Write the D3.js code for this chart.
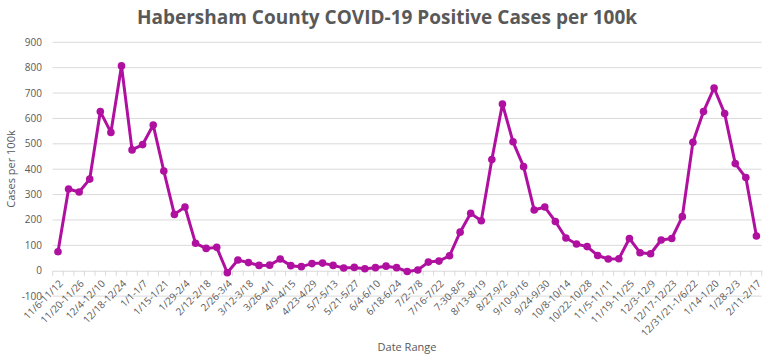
<!DOCTYPE html>
<html>
<head>
<meta charset="utf-8">
<script src="https://cdn.jsdelivr.net/npm/d3@7"></script>
<style>
  html, body { margin: 0; padding: 0; background: #fff; }
  svg { display: block; }
  text { font-family: "Open Sans", "Noto Sans", sans-serif; }
</style>
</head>
<body>
<svg id="chart" width="770" height="357"></svg>
<script>
const categories = [
  "11/6-11/12","11/13-11/19","11/20-11/26","11/27-12/3","12/4-12/10","12/11-12/17",
  "12/18-12/24","12/25-12/31","1/1-1/7","1/8-1/14","1/15-1/21","1/22-1/28",
  "1/29-2/4","2/5-2/11","2/12-2/18","2/19-2/25","2/26-3/4","3/5-3/11",
  "3/12-3/18","3/19-3/25","3/26-4/1","4/2-4/8","4/9-4/15","4/16-4/22",
  "4/23-4/29","4/30-5/6","5/7-5/13","5/14-5/20","5/21-5/27","5/28-6/3",
  "6/4-6/10","6/11-6/17","6/18-6/24","6/25-7/1","7/2-7/8","7/9-7/15",
  "7/16-7/22","7/23-7/29","7-30-8/5","8/6-8/12","8/13-8/19","8/20-8/26",
  "8/27-9/2","9/3-9/9","9/10-9/16","9/17-9/23","9/24-9/30","10/1-10/7",
  "10/8-10/14","10/15-10/21","10/22-10/28","10/29-11/4","11/5-11/11","11/12-11/18",
  "11/19-11/25","11/26-12/2","12/3-12/9","12/10-12/16","12/17-12/23","12/24-12/30",
  "12/31/21-1/6/22","1/7-1/13","1/14-1/20","1/21-1/27","1/28-2/3","2/4-2/10",
  "2/11-2/17"
];
const casesPer100k = [
  75, 322, 310, 361, 627, 545, 807, 476, 497, 574, 393, 222,
  251, 108, 88, 92, -8, 42, 32, 21, 22, 46, 20, 16,
  28, 30, 21, 11, 13, 8, 12, 18, 12, -3, 3, 34,
  38, 59, 152, 226, 197, 438, 657, 508, 410, 239, 251, 194,
  129, 105, 95, 60, 46, 47, 127, 71, 67, 121, 127, 213,
  506, 627, 720, 619, 422, 367, 137
];
const yTicks = [-100, 0, 100, 200, 300, 400, 500, 600, 700, 800, 900];
const title = "Habersham County COVID-19 Positive Cases per 100k";
const yTitle = "Cases per 100k";
const xTitle = "Date Range";

const svg = d3.select("#chart");
const plotLeft = 52.7, plotRight = 761.7, plotTop = 42.3, plotBottom = 296.1;
const textColor = "#595959";
const lineColor = "#b0109f";

const x = d3.scaleBand().domain(categories).range([plotLeft, plotRight]).padding(0);
const y = d3.scaleLinear().domain([-100, 900]).range([plotBottom, plotTop]);

// gridlines
svg.append("g").selectAll("line").data(yTicks.filter(d => d !== 0)).join("line")
  .attr("x1", plotLeft).attr("x2", plotRight)
  .attr("y1", d => y(d)).attr("y2", d => y(d))
  .attr("stroke", "#d9d9d9").attr("stroke-width", 1);

// y tick labels
svg.append("g").selectAll("text").data(yTicks).join("text")
  .attr("x", 42).attr("y", d => y(d)).attr("dy", "0.35em")
  .attr("text-anchor", "end").attr("font-size", 10).attr("fill", textColor)
  .text(d => d);

// x axis at zero
const xAxis = d3.axisBottom(x).tickSize(0).tickFormat("");
const gx = svg.append("g").attr("transform", `translate(0,${y(0)})`).call(xAxis);
gx.select(".domain").attr("stroke", "#d9d9d9");
const bounds = categories.map(c => x(c)).concat([plotRight]);
gx.append("g").selectAll("line").data(bounds).join("line")
  .attr("x1", d => d).attr("x2", d => d).attr("y1", 0).attr("y2", 5)
  .attr("stroke", "#d9d9d9");

// x labels (every other)
svg.append("g").selectAll("text")
  .data(categories.filter((c, i) => i % 2 === 0)).join("text")
  .attr("transform", c => `translate(${x(c) + x.bandwidth() / 2 + 3},${y(0) + 11}) rotate(-45)`)
  .attr("text-anchor", "end").attr("dy", "0.35em")
  .attr("font-size", 10).attr("fill", textColor)
  .text(c => c);

// line
const line = d3.line()
  .x((d, i) => x(categories[i]) + x.bandwidth() / 2)
  .y(d => y(d));
svg.append("path").datum(casesPer100k)
  .attr("d", line).attr("fill", "none")
  .attr("stroke", lineColor).attr("stroke-width", 3).attr("stroke-linejoin", "round");

svg.append("g").selectAll("circle").data(casesPer100k).join("circle")
  .attr("cx", (d, i) => x(categories[i]) + x.bandwidth() / 2)
  .attr("cy", d => y(d)).attr("r", 3.8).attr("fill", lineColor);

// titles
svg.append("text").attr("x", 387).attr("y", 24).attr("text-anchor", "middle")
  .attr("font-size", 19).attr("font-weight", "bold").attr("fill", textColor)
  .text(title);

svg.append("text")
  .attr("transform", `translate(15,169) rotate(-90)`)
  .attr("text-anchor", "middle").attr("font-size", 11).attr("fill", textColor)
  .text(yTitle);

svg.append("text").attr("x", 407).attr("y", 351).attr("text-anchor", "middle")
  .attr("font-size", 11).attr("fill", textColor)
  .text(xTitle);
</script>
</body>
</html>
